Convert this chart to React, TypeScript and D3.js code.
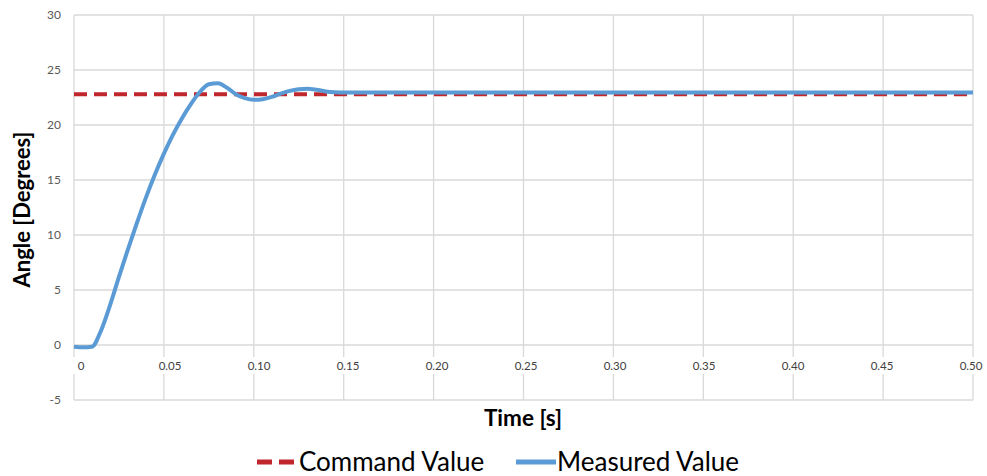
import React from 'react';
import * as d3 from 'd3';

// values
const timeValues = [
  0, 0.005, 0.01, 0.015, 0.02, 0.025, 0.03, 0.035, 0.04, 0.045, 0.05, 0.055, 0.06, 0.065, 0.07,
  0.075, 0.08, 0.085, 0.09, 0.095, 0.1, 0.105, 0.11, 0.115, 0.12, 0.125, 0.13, 0.135, 0.14, 0.145,
  0.15, 0.2, 0.25, 0.3, 0.35, 0.4, 0.45, 0.5,
];
const measuredValues = [
  -0.15, -0.2, -0.15, 1.3, 3.6, 6.2, 8.7, 11.1, 13.4, 15.5, 17.4, 19.1, 20.6, 21.9, 23.0,
  23.7, 23.8, 23.4, 22.8, 22.45, 22.3, 22.35, 22.55, 22.85, 23.1, 23.25, 23.3, 23.2, 23.05, 22.98,
  22.95, 22.95, 22.95, 22.95, 22.95, 22.95, 22.95, 22.95,
];
const commandValue = 22.8;
const xTicks = [0, 0.05, 0.1, 0.15, 0.2, 0.25, 0.3, 0.35, 0.4, 0.45, 0.5];
const xTickLabels = ['0', '0.05', '0.10', '0.15', '0.20', '0.25', '0.30', '0.35', '0.40', '0.45', '0.50'];
const yTicks = [-5, 0, 5, 10, 15, 20, 25, 30];

const W = 987;
const H = 476;
const font = 'Lato, "Open Sans", sans-serif';
const gridColor = '#d9d9d9';
const red = '#c0272d';
const blue = '#5b9bd5';

export default function App() {
  const x = d3.scaleLinear().domain([0, 0.5]).range([74, 973]);
  // category labels in the reference sit slightly right of their gridlines
  const xLabel = d3.scaleLinear().domain([0, 0.5]).range([81, 971]);
  const y = d3.scaleLinear().domain([-5, 30]).range([400, 15]);

  const points = timeValues.map((t, i) => ({ t, v: measuredValues[i] }));
  const line = d3
    .line<{ t: number; v: number }>()
    .x(d => x(d.t))
    .y(d => y(d.v))
    .curve(d3.curveMonotoneX);

  return (
    <svg
      width={W}
      height={H}
      style={{ position: 'absolute', left: 0, top: 0, background: '#fff' }}
      fontFamily={font}
    >
      <rect width={W} height={H} fill="#fff" />
      {yTicks.map(v => (
        <g key={`y${v}`}>
          <line x1={x(0)} x2={x(0.5)} y1={y(v)} y2={y(v)} stroke={gridColor} strokeWidth={1.3} />
          <text x={61} y={y(v)} dy="0.35em" textAnchor="end" fontSize={12} fill="#595959">
            {v}
          </text>
        </g>
      ))}
      {xTicks.map(t => (
        <line key={`x${t}`} x1={x(t)} x2={x(t)} y1={y(30)} y2={y(-5)} stroke={gridColor} strokeWidth={1.3} />
      ))}
      {xTicks.map((t, i) => (
        <g key={`xl${t}`}>
          <rect x={xLabel(t) - 14} y={y(0) + 12} width={28} height={17} fill="#fff" />
          <text x={xLabel(t)} y={y(0) + 21} dy="0.35em" textAnchor="middle" fontSize={11.5} fill="#404040">
            {xTickLabels[i]}
          </text>
        </g>
      ))}

      <line
        x1={x(0)}
        x2={x(0.5)}
        y1={y(commandValue)}
        y2={y(commandValue)}
        stroke={red}
        strokeWidth={4}
        strokeDasharray="13 7"
      />
      <path d={line(points) || ''} fill="none" stroke={blue} strokeWidth={4} strokeLinejoin="round" />

      <text x={523} y={418} dy="0.35em" textAnchor="middle" fontSize={22.5} fontWeight="bold" fill="#000">
        Time [s]
      </text>
      <text
        transform={`translate(22, ${y(12.5) + 2}) rotate(-90)`}
        dy="0.35em"
        textAnchor="middle"
        fontSize={22}
        fontWeight="bold"
        fill="#000"
      >
        Angle [Degrees]
      </text>

      <line x1={257} x2={294} y1={462} y2={462} stroke={red} strokeWidth={5} strokeDasharray="15 7" />
      <text x={299} y={462} dy="0.35em" fontSize={26} fill="#000">
        Command Value
      </text>
      <line x1={516} x2={556} y1={462} y2={462} stroke={blue} strokeWidth={5} />
      <text x={557} y={462} dy="0.35em" fontSize={26} fill="#000">
        Measured Value
      </text>
    </svg>
  );
}
